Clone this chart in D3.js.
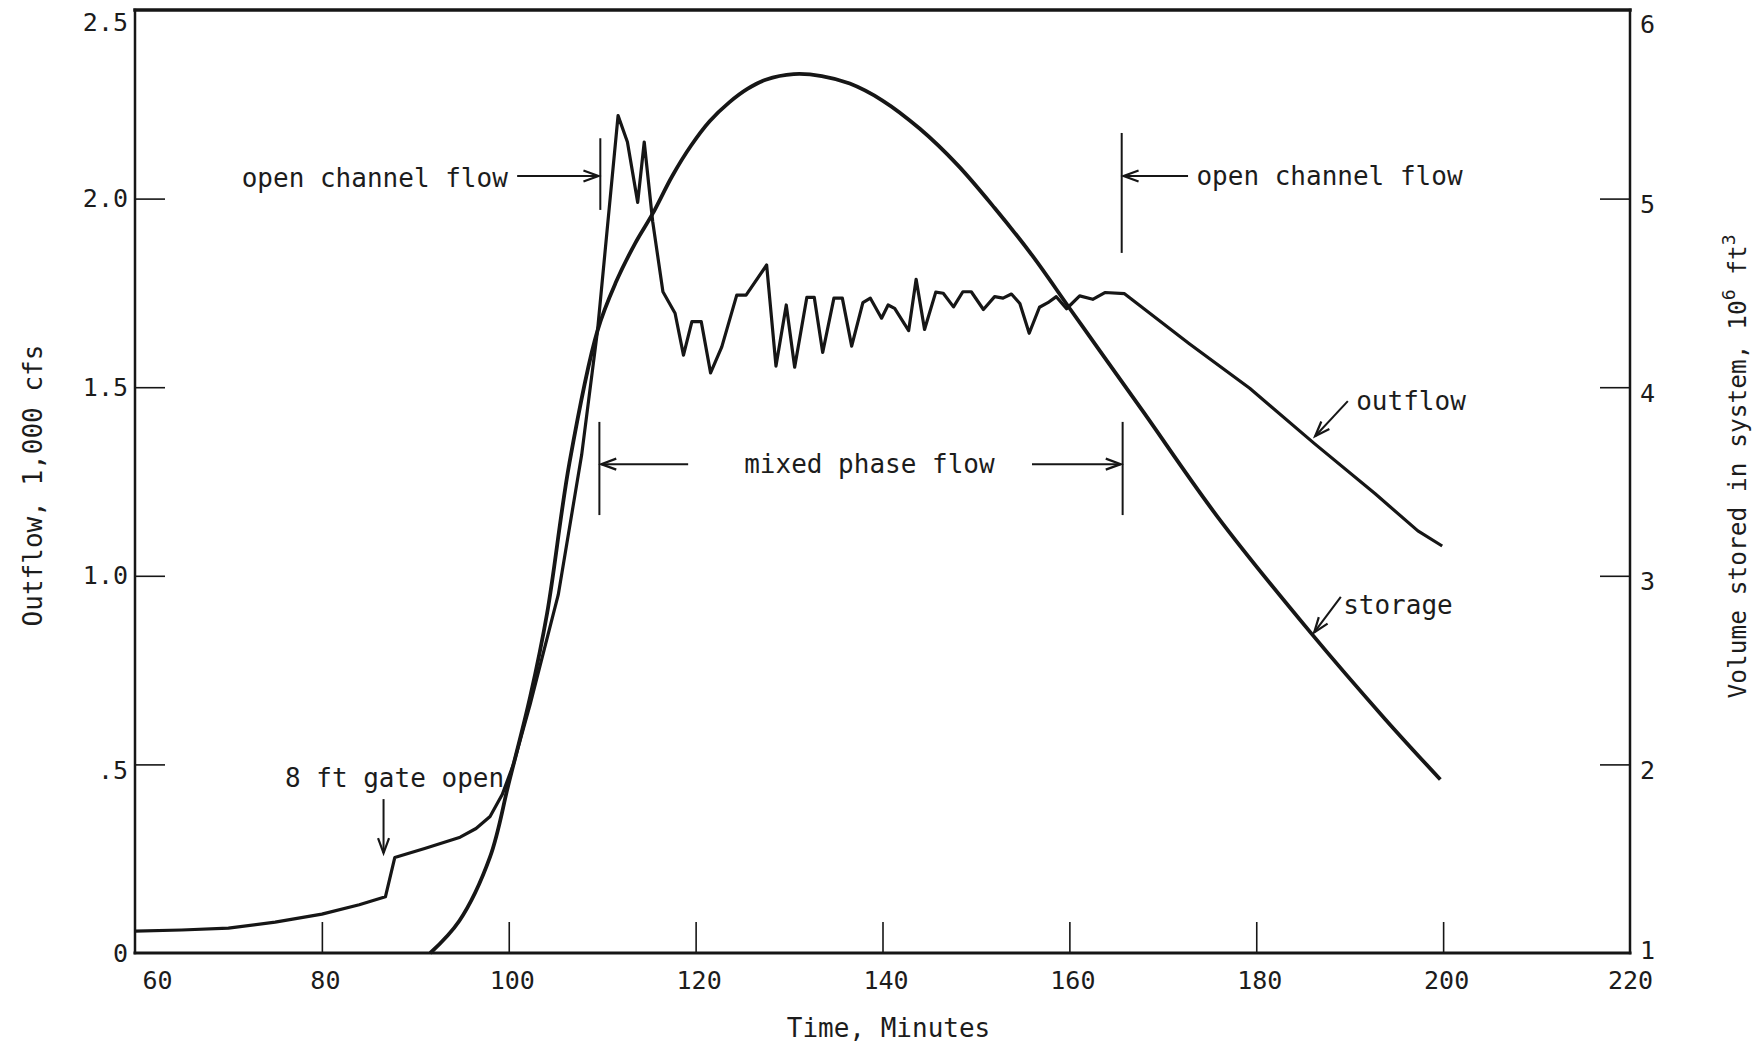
<!DOCTYPE html>
<html>
<head>
<meta charset="utf-8">
<script src="https://cdn.jsdelivr.net/npm/d3@7"></script>
<style>
  body { margin: 0; background: #fff; }
  text { font-family: "DejaVu Sans Mono", monospace; fill: #1c1c1c; }
</style>
</head>
<body>
<svg id="chart"></svg>
<script>
// ---------- data ----------
// outflow, 1,000 cfs (left axis)
const outflowTime = [60, 65, 70, 75, 80, 84, 86.8, 87.8, 91, 94.8, 96.5, 98, 99.3, 100.5,
  102.3, 105.3, 107.8, 109.5, 111.7, 112.7, 113.8, 114.5, 115.4, 116.5, 117.8, 118.7,
  119.6, 120.6, 121.6, 122.8, 124.4, 125.4, 127.6, 128.6, 129.7, 130.6, 131.9, 132.7,
  133.6, 134.8, 135.7, 136.7, 137.9, 138.7, 139.9, 140.6, 141.3, 142.8, 143.6, 144.5,
  145.7, 146.5, 147.6, 148.6, 149.5, 150.8, 152.0, 152.9, 153.8, 154.7, 155.7, 156.8,
  157.7, 158.6, 159.7, 161.1, 162.5, 163.8, 165.9, 172.8, 179.3, 186.2, 192.7, 197.3, 199.9];
const outflowValue = [0.058, 0.061, 0.066, 0.082, 0.103, 0.128, 0.149, 0.253, 0.277, 0.307, 0.33, 0.362, 0.42, 0.5,
  0.66, 0.95, 1.32, 1.65, 2.22, 2.15, 1.99, 2.15, 1.94, 1.753, 1.696, 1.585,
  1.674, 1.674, 1.538, 1.607, 1.744, 1.744, 1.824, 1.556, 1.718, 1.553, 1.738, 1.738,
  1.592, 1.736, 1.736, 1.609, 1.724, 1.736, 1.683, 1.718, 1.709, 1.650, 1.786, 1.653,
  1.752, 1.749, 1.713, 1.753, 1.753, 1.706, 1.740, 1.736, 1.747, 1.722, 1.643, 1.712,
  1.724, 1.740, 1.708, 1.742, 1.733, 1.751, 1.748, 1.616, 1.497, 1.351, 1.218, 1.119, 1.079];

// volume stored in system, 10^6 ft^3 (right axis)
const storageTime = [91.6, 94.7, 98.0, 100.0, 102.3, 104.1, 106.5, 109.5, 111.5, 113.5, 115.4,
  117.5, 119.5, 121.5, 123.6, 125.5, 127.5, 130.5, 133.5, 136.5, 140.0, 144.0, 148.0,
  152.0, 156.0, 160.0, 163.3, 167.9, 175.9, 185.8, 193.8, 199.7];
const storageValue = [1.00, 1.17, 1.51, 1.90, 2.36, 2.80, 3.60, 4.30, 4.56, 4.76, 4.92,
  5.12, 5.28, 5.41, 5.51, 5.58, 5.63, 5.66, 5.65, 5.61, 5.52, 5.37, 5.18,
  4.95, 4.70, 4.42, 4.19, 3.87, 3.31, 2.70, 2.24, 1.92];

const timeTicks = [60, 80, 100, 120, 140, 160, 180, 200, 220];
const outflowTicks = [0, 0.5, 1.0, 1.5, 2.0, 2.5];
const outflowTickLabels = ["0", ".5", "1.0", "1.5", "2.0", "2.5"];
const storageTicks = [1, 2, 3, 4, 5, 6];

// ---------- layout ----------
const W = 1763, H = 1047;
const ink = "#161616";
const svg = d3.select("#chart").attr("width", W).attr("height", H);
svg.append("rect").attr("width", W).attr("height", H).attr("fill", "#fff");

const x = d3.scaleLinear().domain([60, 220]).range([135, 1630]);
const yL = d3.scaleLinear().domain([0, 2.5]).range([953, 10]);
const yR = d3.scaleLinear().domain([1, 6]).range([953, 10]);

const styleAxis = (g) => {
  g.select(".domain").remove();
  g.attr("font-family", null).attr("font-size", 25);
  g.selectAll(".tick line").attr("stroke", ink).attr("stroke-width", 1.6);
  g.selectAll(".tick text").attr("fill", ink);
};

// ---------- axes ----------
const gx = svg.append("g")
  .attr("transform", `translate(0,${yL(0)})`)
  .call(d3.axisBottom(x).tickValues(timeTicks).tickSize(-31).tickPadding(18).tickFormat(d3.format("d")))
  .call(styleAxis);
gx.selectAll(".tick").filter(d => d === 60 || d === 220).select("line").remove();
gx.selectAll(".tick text").attr("dx", d => d === 60 ? 22 : d === 220 ? 0 : 3);

const gl = svg.append("g")
  .attr("transform", `translate(${x(60)},0)`)
  .call(d3.axisLeft(yL).tickValues(outflowTicks).tickSize(-30).tickPadding(7)
    .tickFormat((d, i) => outflowTickLabels[i]))
  .call(styleAxis);
gl.selectAll(".tick").filter(d => d === 0 || d === 2.5).select("line").remove();
gl.selectAll(".tick text").attr("dy", d => d === 2.5 ? "0.8em" : d === 0.5 ? "0.55em" : "0.32em");

const gr = svg.append("g")
  .attr("transform", `translate(${x(220)},0)`)
  .call(d3.axisRight(yR).tickValues(storageTicks).tickSize(-30).tickPadding(10).tickFormat(d3.format("d")))
  .call(styleAxis);
gr.selectAll(".tick").filter(d => d === 1 || d === 6).select("line").remove();
gr.selectAll(".tick text").attr("dy", d => d === 6 ? "0.9em" : d === 1 ? "0.2em" : "0.56em");

// frame
const frame = svg.append("g").attr("stroke", ink).attr("stroke-linecap", "square");
frame.append("line").attr("x1", x(60)).attr("x2", x(220)).attr("y1", yL(2.5)).attr("y2", yL(2.5)).attr("stroke-width", 3.5);
frame.append("line").attr("x1", x(60)).attr("x2", x(220)).attr("y1", yL(0)).attr("y2", yL(0)).attr("stroke-width", 3);
frame.append("line").attr("x1", x(60)).attr("x2", x(60)).attr("y1", yL(0)).attr("y2", yL(2.5)).attr("stroke-width", 2.5);
frame.append("line").attr("x1", x(220)).attr("x2", x(220)).attr("y1", yL(0)).attr("y2", yL(2.5)).attr("stroke-width", 2.5);

// axis titles
svg.append("text")
  .attr("transform", `translate(42,${yL(1.25) + 4}) rotate(-90)`)
  .attr("text-anchor", "middle").attr("font-size", 26)
  .text("Outflow, 1,000 cfs");

const rt = svg.append("text")
  .attr("transform", `translate(1746,${yL(1.29)}) rotate(-90)`)
  .attr("text-anchor", "middle").attr("font-size", 24.5);
rt.append("tspan").text("Volume stored in system, 10");
rt.append("tspan").attr("font-size", 18).attr("dy", -11).text("6");
rt.append("tspan").attr("dy", 11).text(" ft");
rt.append("tspan").attr("font-size", 18).attr("dy", -11).text("3");

svg.append("text")
  .attr("x", x(140) + 6).attr("y", 1037)
  .attr("text-anchor", "middle").attr("font-size", 26)
  .text("Time, Minutes");

// ---------- curves ----------
const outflowData = outflowTime.map((t, i) => [t, outflowValue[i]]);
const storageData = storageTime.map((t, i) => [t, storageValue[i]]);

svg.append("path").datum(outflowData)
  .attr("fill", "none").attr("stroke", ink).attr("stroke-width", 3.2)
  .attr("stroke-linejoin", "round")
  .attr("d", d3.line().x(d => x(d[0])).y(d => yL(d[1])));

svg.append("path").datum(storageData)
  .attr("fill", "none").attr("stroke", ink).attr("stroke-width", 3.8)
  .attr("d", d3.line().curve(d3.curveCatmullRom.alpha(0.5)).x(d => x(d[0])).y(d => yR(d[1])));

// ---------- annotations ----------
const anno = svg.append("g").attr("stroke", ink).attr("fill", "none").attr("stroke-width", 2);

function bar(t, v1, v2) {
  anno.append("line").attr("x1", x(t)).attr("x2", x(t)).attr("y1", yL(v1)).attr("y2", yL(v2));
}
function arrow(x1, y1, x2, y2) {
  anno.append("line").attr("x1", x1).attr("y1", y1).attr("x2", x2).attr("y2", y2);
  const a = Math.atan2(y2 - y1, x2 - x1), L = 15, hw = 5.5;
  const bx = x2 - L * Math.cos(a), by = y2 - L * Math.sin(a);
  anno.append("path")
    .attr("stroke-width", 2.2)
    .attr("d", `M${bx + hw * Math.sin(a)},${by - hw * Math.cos(a)}L${x2},${y2}L${bx - hw * Math.sin(a)},${by + hw * Math.cos(a)}`);
}
function label(t, yPx, str, anchor) {
  svg.append("text").attr("x", x(t)).attr("y", yPx)
    .attr("text-anchor", anchor || "start").attr("font-size", 26).text(str);
}

// open channel flow (start)
bar(109.8, 1.97, 2.16);
arrow(x(100.9), yL(2.06), x(109.6), yL(2.06));
label(99.9, yL(2.03), "open channel flow", "end");

// open channel flow (end)
bar(165.6, 1.856, 2.174);
arrow(x(172.7), yL(2.06), x(165.8), yL(2.06));
label(173.6, yL(2.035), "open channel flow");

// mixed phase flow
bar(109.7, 1.161, 1.408);
bar(165.7, 1.161, 1.408);
arrow(x(119.2), yL(1.296), x(109.9), yL(1.296));
arrow(x(156.0), yL(1.296), x(165.5), yL(1.296));
label(138.6, yL(1.273), "mixed phase flow", "middle");

// curve labels
label(190.7, yL(1.44), "outflow");
arrow(x(189.8), yL(1.463), x(186.3), yL(1.37));
label(189.3, yR(2.80), "storage");
arrow(x(189.05), yR(2.888), x(186.2), yR(2.70));

// gate opening
label(76.05, yL(0.44), "8 ft gate open");
arrow(x(86.6), yL(0.408), x(86.6), yL(0.265));
</script>
</body>
</html>
